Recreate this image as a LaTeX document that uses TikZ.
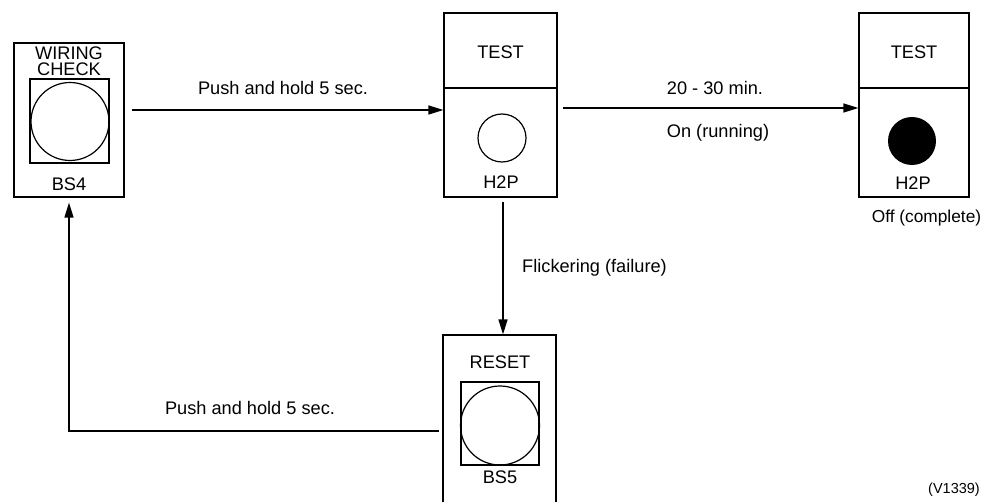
\documentclass[tikz,border=0pt]{standalone}
\usepackage{fontspec}
\setmainfont{Liberation Sans}
\usetikzlibrary{arrows.meta}
\begin{document}
\begin{tikzpicture}[x=1pt,y=-1pt,
  lbl/.style={inner sep=0pt,font=\fontsize{18.2}{16}\selectfont},
  panel/.style={draw,line width=1.2pt,inner sep=0pt},
  conn/.style={line width=1.3pt,-{Triangle[length=15pt,width=9pt]}},
  plain/.style={line width=1.3pt}]
\useasboundingbox (0,0) rectangle (985,502);
\clip (0,0) rectangle (985,502);
% left box BS4
\node[panel,minimum width=110pt,minimum height=154pt] (left) at (69,120) {};
\node[panel,minimum width=79pt,minimum height=84pt] (lsq) at (69.5,121) {};
\node[draw,circle,line width=1.2pt,minimum size=78pt,inner sep=0pt] (lbtn) at (70,121.5) {};
\node[lbl,anchor=base] (lt1) at (69,59.5) {WIRING};
\node[lbl,anchor=base] (lt2) at (69,75.5) {CHECK};
\node[lbl] (bs4) at (69,184) {BS4};
% middle box TEST
\node[panel,minimum width=113pt,minimum height=184pt] (mid) at (500.5,105) {};
\draw[line width=1.2pt] (mid.west |- 0,88) -- (mid.east |- 0,88);
\node[lbl] (mtest) at (500.5,52) {TEST};
\node[draw,circle,line width=1.2pt,minimum size=48pt,inner sep=0pt] (mlamp) at (502,138) {};
\node[lbl] (mh2p) at (501,182) {H2P};
% right box TEST
\node[panel,minimum width=110pt,minimum height=184pt] (right) at (914,105) {};
\draw[line width=1.2pt] (right.west |- 0,88) -- (right.east |- 0,88);
\node[lbl] (rtest) at (914,52) {TEST};
\node[circle,fill=black,minimum size=48pt,inner sep=0pt] (rlamp) at (912,141) {};
\node[lbl] (rh2p) at (913,183) {H2P};
\node[lbl,font=\fontsize{17.3}{16}\selectfont] (off) at (926.5,218) {Off (complete)};
% bottom box RESET
\node[panel,minimum width=113pt,minimum height=180pt] (bot) at (499.5,425) {};
\node[panel,minimum width=78pt,minimum height=83pt] (bsq) at (500,423.5) {};
\node[draw,circle,line width=1.2pt,minimum size=79pt,inner sep=0pt] (bbtn) at (500,425.5) {};
\node[lbl] (reset) at (500,362) {RESET};
\node[lbl] (bs5) at (500,477) {BS5};
% connectors
\coordinate (a1s) at (132,110);
\draw[conn] (a1s) -- (mid.west |- a1s);
\node[lbl] (l1) at (283,88) {Push and hold 5 sec.};
\coordinate (a2s) at (563,108);
\draw[conn] (a2s) -- (right.west |- a2s);
\node[lbl] (l2) at (715,88) {20 - 30 min.};
\node[lbl] (l3) at (718,133) {On (running)};
\coordinate (a3s) at (503,202);
\draw[conn] (a3s) -- (bot.north -| a3s);
\node[lbl,anchor=west] (l4) at (522,268) {Flickering (failure)};
\coordinate (a4s) at (439,431);
\coordinate (a4c) at (69,431);
\draw[conn,shorten >=5pt] (a4s) -- (a4c) -- (left.south);
\node[lbl] (l5) at (250,408) {Push and hold 5 sec.};
\node[lbl,anchor=east,font=\fontsize{14.5}{15}\selectfont] (ref) at (980,490) {(V1339)};
\end{tikzpicture}
\end{document}
